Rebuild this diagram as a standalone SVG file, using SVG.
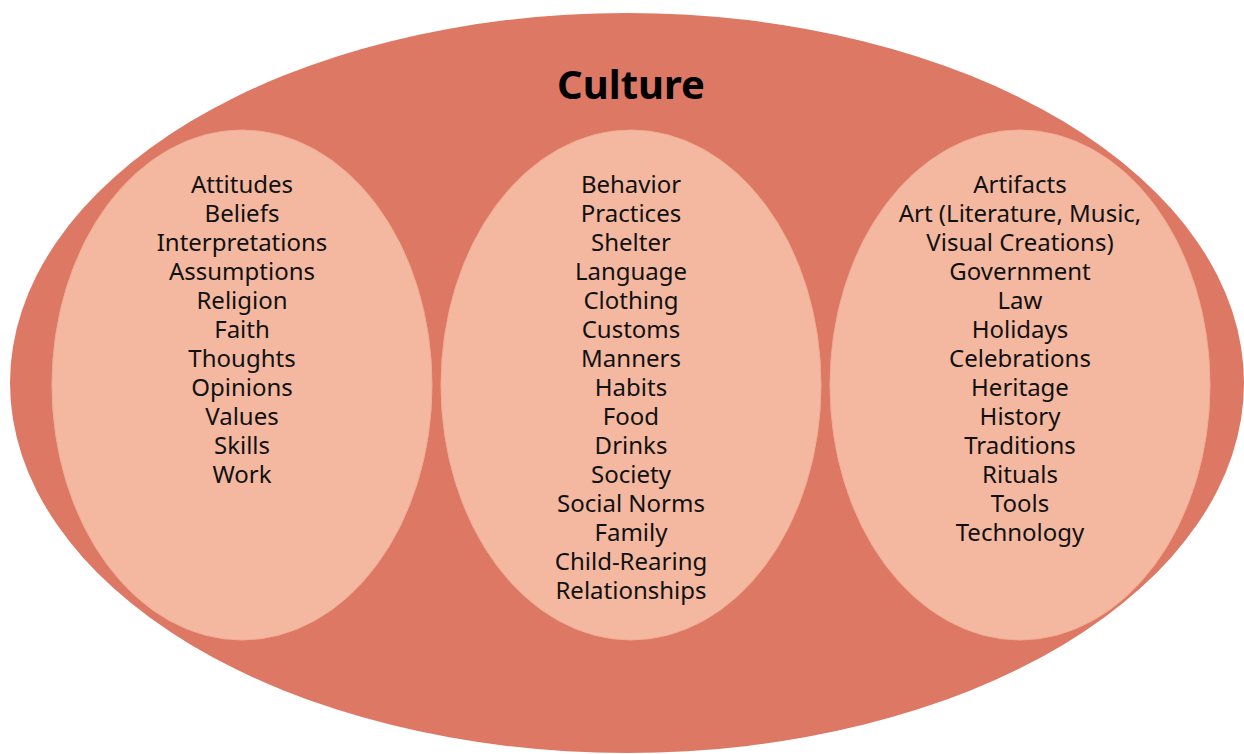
<svg xmlns="http://www.w3.org/2000/svg" width="1244" height="754" viewBox="0 0 1244 754">
<style>
.outer{fill:#DD7865}
.inner{fill:#F4B8A0;stroke:#F0AE94;stroke-width:1}
.t{font-family:"Noto Sans","Open Sans",sans-serif;font-size:24px;fill:#111;text-anchor:middle}
.title{font-family:"Noto Sans","Open Sans",sans-serif;font-size:40px;font-weight:bold;fill:#000;text-anchor:middle}
</style>
<rect width="1244" height="754" fill="#fff"/>
<g id="culture">
<ellipse class="outer" cx="627" cy="383" rx="617" ry="370"/>
<text class="title" x="631" y="99">Culture</text>
</g>
<g id="left">
<ellipse class="inner" cx="242" cy="385" rx="190" ry="255"/>
<text class="t" x="242" y="193">Attitudes</text>
<text class="t" x="242" y="222">Beliefs</text>
<text class="t" x="242" y="251">Interpretations</text>
<text class="t" x="242" y="280">Assumptions</text>
<text class="t" x="242" y="309">Religion</text>
<text class="t" x="242" y="338">Faith</text>
<text class="t" x="242" y="367">Thoughts</text>
<text class="t" x="242" y="396">Opinions</text>
<text class="t" x="242" y="425">Values</text>
<text class="t" x="242" y="454">Skills</text>
<text class="t" x="242" y="483">Work</text>
</g>
<g id="middle">
<ellipse class="inner" cx="631" cy="385" rx="190" ry="255"/>
<text class="t" x="631" y="193">Behavior</text>
<text class="t" x="631" y="222">Practices</text>
<text class="t" x="631" y="251">Shelter</text>
<text class="t" x="631" y="280">Language</text>
<text class="t" x="631" y="309">Clothing</text>
<text class="t" x="631" y="338">Customs</text>
<text class="t" x="631" y="367">Manners</text>
<text class="t" x="631" y="396">Habits</text>
<text class="t" x="631" y="425">Food</text>
<text class="t" x="631" y="454">Drinks</text>
<text class="t" x="631" y="483">Society</text>
<text class="t" x="631" y="512">Social Norms</text>
<text class="t" x="631" y="541">Family</text>
<text class="t" x="631" y="570">Child-Rearing</text>
<text class="t" x="631" y="599">Relationships</text>
</g>
<g id="right">
<ellipse class="inner" cx="1020" cy="385" rx="190" ry="255"/>
<text class="t" x="1020" y="193">Artifacts</text>
<text class="t" x="1020" y="222">Art (Literature, Music,</text>
<text class="t" x="1020" y="251">Visual Creations)</text>
<text class="t" x="1020" y="280">Government</text>
<text class="t" x="1020" y="309">Law</text>
<text class="t" x="1020" y="338">Holidays</text>
<text class="t" x="1020" y="367">Celebrations</text>
<text class="t" x="1020" y="396">Heritage</text>
<text class="t" x="1020" y="425">History</text>
<text class="t" x="1020" y="454">Traditions</text>
<text class="t" x="1020" y="483">Rituals</text>
<text class="t" x="1020" y="512">Tools</text>
<text class="t" x="1020" y="541">Technology</text>
</g>
</svg>
